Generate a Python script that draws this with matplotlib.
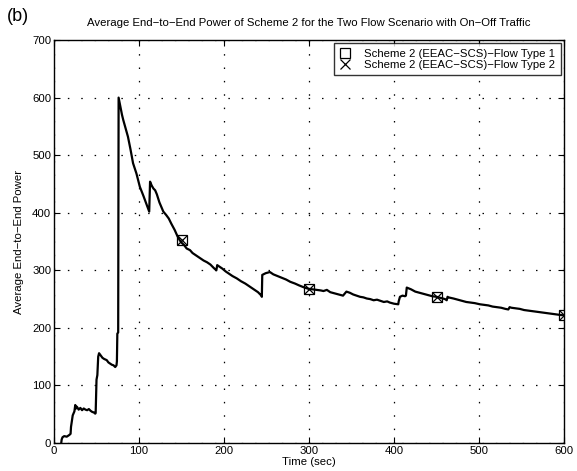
import numpy as np
import matplotlib.pyplot as plt

plt.rcParams['font.family'] = ['Liberation Sans', 'DejaVu Sans']

# values, (time, power)
curve = [
    (8.5, 0), (9, 6), (10, 10), (12, 12), (15, 11), (18, 14), (19.5, 16),
    (20, 28), (21, 38), (22, 48), (24, 55), (25, 66), (26, 60), (27, 63),
    (29, 58), (31, 61), (33, 57), (35, 60), (37, 58), (39, 57), (41, 59),
    (43, 56), (45, 54), (47, 53), (48.5, 51), (49, 52), (50, 110), (51, 118),
    (52, 150), (53, 156), (55, 152), (57, 148), (59, 146), (62, 144), (64, 140),
    (66, 138), (68, 136), (70, 135), (72, 132), (73.5, 135), (74, 142),
    (74.5, 190), (75.5, 192), (76, 600), (78, 585), (80, 570), (81.5, 561),
    (84, 548), (87, 532), (90, 510), (93, 486), (97, 468), (101, 445),
    (105, 430), (109, 414), (112, 402), (112.5, 425), (113, 454), (115, 447),
    (117, 442), (119, 439), (121, 432), (124, 418), (128.6, 402), (132, 396),
    (135, 390), (138, 381), (142, 370), (145, 360), (148, 352), (150, 348),
    (153, 344), (156, 338), (160, 335), (163, 330), (166, 327), (169, 324),
    (172, 321), (176, 317), (180, 314), (184, 310), (188, 304), (191, 300),
    (192, 309), (195, 306), (198, 303), (202, 298), (206, 294), (210, 290),
    (215, 286), (220, 281), (225, 277), (230, 272), (235, 267), (240, 262),
    (244, 256), (244.5, 254), (245, 292), (249, 295), (254, 297), (258, 293),
    (263, 290), (268, 287), (273, 284), (278, 280), (283.5, 277), (288, 274),
    (293, 271), (299, 268), (304, 267), (309, 266), (314, 265), (317, 264),
    (321, 266), (325, 262), (330, 260), (335, 258), (340, 256), (344, 263),
    (348, 261), (352, 258), (356, 256), (360, 254), (364, 253), (368, 251),
    (372, 250), (376, 248), (380, 249), (384, 247), (388, 245), (392, 246),
    (395, 244), (400, 242), (405, 241), (405.5, 246), (407, 254), (410, 256),
    (413, 255), (414, 256), (415, 270), (420, 267), (425, 263), (430, 261),
    (435, 259), (440, 257), (445, 255), (450, 254), (455, 252), (460, 250),
    (462, 248), (463, 254), (464, 253), (470, 251), (475, 249), (480, 247),
    (485, 245), (490, 244), (495, 243), (501, 241), (506, 240), (511, 239),
    (516, 237), (521, 236), (526, 235), (531, 233), (534.5, 232), (536, 236),
    (538, 235), (543, 234), (548, 233), (553, 231), (558, 230), (563, 229),
    (568, 228), (573, 227), (578, 226), (583, 225), (588, 224), (593, 223),
    (598, 222), (600, 222),
]
t = [c[0] for c in curve]
power = [c[1] for c in curve]
mark_t = [150, 300, 450, 600]
mark_p = [353, 267, 254, 222]

fs = 8.2

fig = plt.figure(figsize=(5.77, 4.71), dpi=100)
ax = fig.add_axes([0.0936, 0.0594, 0.8839, 0.8556])

ax.plot(t, power, color='black', linewidth=1.6)
ax.plot(mark_t, mark_p, linestyle='none', marker='s', markersize=7.5,
        markerfacecolor='none', markeredgecolor='black', markeredgewidth=0.9,
        label='Scheme 2 (EEAC\u2212SCS)\u2212Flow Type 1')
ax.plot(mark_t, mark_p, linestyle='none', marker='x', markersize=6.5,
        color='black', markeredgewidth=0.9,
        label='Scheme 2 (EEAC\u2212SCS)\u2212Flow Type 2')

ax.set_xlim(0, 600)
ax.set_ylim(0, 700)
ax.set_xticks(range(0, 601, 100))
ax.set_yticks(range(0, 701, 100))
ax.grid(True, color='black', linestyle=(0, (1.2, 9.5)), linewidth=0.9)
ax.tick_params(direction='in', top=True, right=True, labelsize=fs, length=4, pad=2)
for s in ax.spines.values():
    s.set_linewidth(1.0)

ax.set_xlabel('Time (sec)', fontsize=fs, labelpad=1)
ax.set_ylabel('Average End\u2212to\u2212End Power', fontsize=fs, labelpad=6)
ax.set_title('Average End\u2212to\u2212End Power of Scheme 2 for the Two Flow Scenario with On\u2212Off Traffic',
             fontsize=fs, pad=10)
fig.text(0.012, 0.955, '(b)', fontsize=13)

leg = ax.legend(loc='upper right', fontsize=fs, frameon=True, fancybox=False,
                borderaxespad=0.3, handletextpad=1.2, borderpad=0.45,
                labelspacing=0.15, handlelength=1.0)
leg.get_frame().set_edgecolor('black')
leg.get_frame().set_linewidth(1.0)

fig.savefig('out.png', dpi=100)
